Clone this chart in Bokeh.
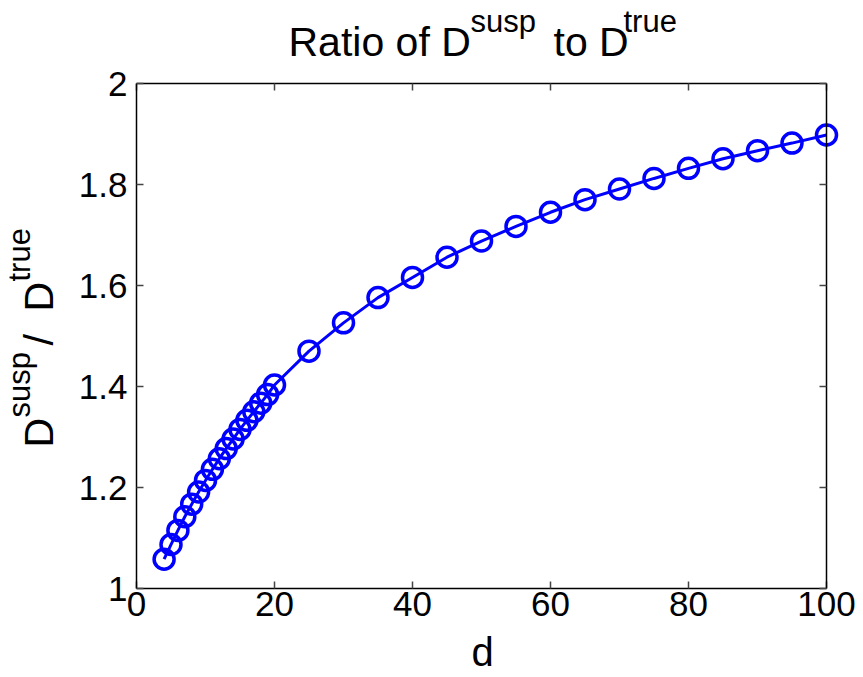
from bokeh.plotting import figure
from bokeh.models import Range1d, FixedTicker, LinearAxis, Label, CustomJSTickFormatter, ColumnDataSource
from bokeh.embed import file_html
from bokeh.resources import INLINE
import math

# ---- data ----
d_values = [4, 5, 6, 7, 8, 9, 10, 11, 12, 13, 14, 15, 16, 17, 18, 19, 20,
            25, 30, 35, 40, 45, 50, 55, 60, 65, 70, 75, 80, 85, 90, 95, 100]
ratio_values = [1.058, 1.087, 1.115, 1.142, 1.167, 1.191, 1.214, 1.236, 1.257,
                1.277, 1.296, 1.315, 1.333, 1.350, 1.367, 1.384, 1.403,
                1.470, 1.526, 1.576, 1.616, 1.656, 1.688, 1.717, 1.745, 1.770,
                1.791, 1.812, 1.832, 1.851, 1.867, 1.882, 1.898]
x_ticks = [0, 20, 40, 60, 80, 100]
y_ticks = [1.0, 1.2, 1.4, 1.6, 1.8, 2.0]
x_lim = (0, 100)
y_lim = (1, 2)

FONT = "Liberation Sans"
BLUE = "#0000ff"

W, H = 863, 677
# axes box in canvas pixels
BX0, BX1, BY0, BY1 = 136, 826, 83, 588
kx = (BX1 - BX0) / (x_lim[1] - x_lim[0])
ky = (BY1 - BY0) / (y_lim[1] - y_lim[0])
xr = Range1d(x_lim[0] - BX0 / kx, x_lim[1] + (W - BX1) / kx)
yr = Range1d(y_lim[0] - (H - BY1) / ky, y_lim[1] + BY0 / ky)

src = ColumnDataSource(data=dict(d=d_values, r=ratio_values))

p = figure(width=W, height=H, output_backend="svg", toolbar_location=None,
           x_range=xr, y_range=yr, x_axis_location=None, y_axis_location=None,
           min_border=0, background_fill_color="white",
           border_fill_color="white")
p.grid.visible = False
p.outline_line_color = None

fmt = CustomJSTickFormatter(code="return String(Math.round(tick*10)/10);")
blank = CustomJSTickFormatter(code="return '';")

ax_bottom = LinearAxis(fixed_location=y_lim[0], bounds=x_lim,
                       ticker=FixedTicker(ticks=x_ticks), formatter=fmt)
ax_top = LinearAxis(fixed_location=y_lim[1], bounds=x_lim,
                    ticker=FixedTicker(ticks=x_ticks), formatter=blank)
ax_left = LinearAxis(fixed_location=x_lim[0], bounds=y_lim,
                     ticker=FixedTicker(ticks=y_ticks), formatter=fmt)
ax_right = LinearAxis(fixed_location=x_lim[1], bounds=y_lim,
                      ticker=FixedTicker(ticks=y_ticks), formatter=blank)

for ax in (ax_bottom, ax_top, ax_left, ax_right):
    ax.axis_line_color = "black"
    ax.axis_line_width = 1.5
    ax.major_tick_in = 7
    ax.major_tick_out = 0
    ax.major_tick_line_color = "#444444"
    ax.major_tick_line_width = 1.5
    ax.minor_tick_line_color = None
    ax.major_label_text_font = FONT
    ax.major_label_text_font_size = "35px"
    ax.major_label_text_color = "black"

ax_bottom.major_label_standoff = 3
ax_left.major_label_standoff = 9
for ax in (ax_top, ax_right):
    ax.major_label_text_color = None
    ax.major_label_standoff = 0

p.add_layout(ax_bottom, "below")
p.add_layout(ax_top, "above")
p.add_layout(ax_left, "left")
p.add_layout(ax_right, "right")

p.line("d", "r", source=src, line_color=BLUE, line_width=3)
p.scatter("d", "r", source=src, marker="circle", size=20, fill_color=None,
          line_color=BLUE, line_width=3.5)


def txt(s, cx, cy, size, angle=0.0, align="left"):
    # compensate the renderer's baseline shift (about 0.4 em along text-down)
    o = 0.4 * size
    if angle == 0.0:
        cy -= o
    else:
        cx -= o
    p.add_layout(Label(x=cx, y=H - cy, x_units="screen", y_units="screen",
                       text=s, text_font=FONT, text_font_size=f"{size}px",
                       text_color="black", text_align=align,
                       text_baseline="alphabetic", angle=angle))


# title: Ratio of D^susp to D^true
txt("Ratio of D", 288, 58, 41)
txt("susp", 470, 33, 31)
txt("to D", 553, 58, 41)
txt("true", 623, 33, 31)

# y label: D^susp / D^true (rotated)
A = math.pi / 2
txt("D", 55, 447, 41, A)
txt("susp", 31, 417, 31, A)
txt("/", 55, 345, 41, A)
txt("D", 55, 311, 41, A)
txt("true", 31, 281, 31, A)

# x label
txt("d", 482, 667, 40, 0.0, "center")

open("out.html", "w").write(file_html(p, INLINE))
